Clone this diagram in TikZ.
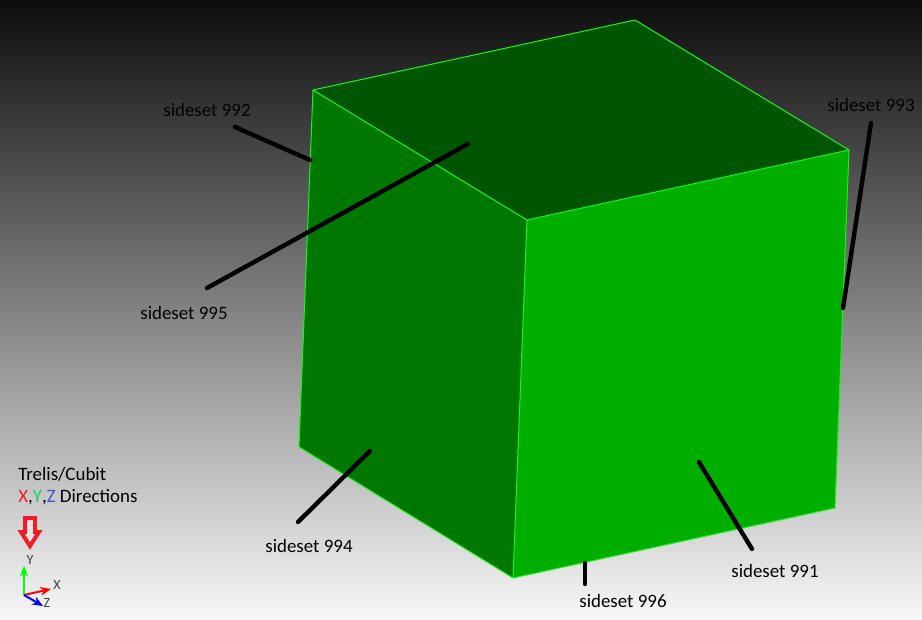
\documentclass[tikz,border=0pt]{standalone}
\usepackage{fontspec}
\usetikzlibrary{arrows.meta}
\setmainfont{Carlito}
\definecolor{topface}{HTML}{005500}
\definecolor{leftface}{HTML}{007700}
\definecolor{frontface}{HTML}{00AE00}
\definecolor{edgegreen}{HTML}{20F020}
\definecolor{triadred}{HTML}{EE1C25}
\definecolor{triadgreen}{HTML}{22CC66}
\definecolor{triadblue}{HTML}{4455CC}
\tikzset{
	edgeline/.style={edgegreen,line width=0.75pt,line join=round},
	leader/.style={black,line width=3.3pt,line cap=round},
	setlabel/.style={font=\fontsize{14.2}{16}\selectfont,text=black,inner sep=0pt},
	triadlabel/.style={font=\fontsize{10.5}{11}\selectfont,text=black!75,inner sep=0pt},
	triadarrow/.style={line width=1.5pt,-{Stealth[length=8pt,width=6.5pt]}},
}
\begin{document}
\begin{tikzpicture}[x=0.75pt,y=-0.75pt,line join=round,>=stealth]
	\useasboundingbox (0,0) rectangle (922,620);
	\shade[top color=black!95,bottom color=black!3] (0,0) rectangle (922,620);
	
	\coordinate (A) at (313,90);
	\coordinate (B) at (635,20);
	\coordinate (C) at (849,150);
	\coordinate (D) at (527,220);
	\coordinate (E) at (299,447);
	\coordinate (F) at (513,578);
	\coordinate (G) at (835,508);
	
	\fill[topface] (A) -- (B) -- (C) -- (D) -- cycle;
	\fill[leftface] (A) -- (D) -- (F) -- (E) -- cycle;
	\fill[frontface] (D) -- (C) -- (G) -- (F) -- cycle;
	
	\draw[edgeline] (A) -- (B) -- (C) -- (D) -- cycle;
	\draw[edgeline] (A) -- (E) -- (F) -- (G) -- (C);
	\draw[edgeline] (D) -- (F);
	
	\node[setlabel] (s992) at (207,110) {sideset 992};
	\node[setlabel] (s993) at (871,105) {sideset 993};
	\node[setlabel] (s995) at (184,313) {sideset 995};
	\node[setlabel] (s994) at (309,546) {sideset 994};
	\node[setlabel] (s991) at (775,571) {sideset 991};
	\node[setlabel] (s996) at (623,601) {sideset 996};
	
	\coordinate (p992a) at (235,127);
	\coordinate (p992b) at (310,160);
	\coordinate (p993a) at (871,123);
	\coordinate (p993b) at (843,308);
	\coordinate (p995a) at (207,288);
	\coordinate (p995b) at (468,144);
	\coordinate (p994a) at (298,522);
	\coordinate (p994b) at (370,451);
	\coordinate (p991a) at (752,549);
	\coordinate (p991b) at (699,462);
	\coordinate (p996a) at (585,584);
	\coordinate (p996b) at (585,563);
	
	\draw[leader] (p992a) -- (p992b);
	\draw[leader] (p993a) -- (p993b);
	\draw[leader] (p995a) -- (p995b);
	\draw[leader] (p994a) -- (p994b);
	\draw[leader] (p991a) -- (p991b);
	\draw[leader] (p996a) -- (p996b);
	
	\node[setlabel,anchor=west] (title) at (18,474) {Trelis/Cubit};
	\node[setlabel,anchor=west] (dirs) at (18,497) {\textcolor{triadred}{X},\textcolor{triadgreen}{Y},\textcolor{triadblue}{Z} Directions};
	
	% red arrow
	\draw[triadred,line width=3pt,fill=white!90!black,line join=miter]
		(25,518) -- (35,518) -- (35,532) -- (39,532) -- (30,546) -- (21,532) -- (25,532) -- cycle;
	
	% triad
	\coordinate (O) at (24,595);
	\coordinate (Xtip) at (51,589);
	\coordinate (Ytip) at (24,566);
	\coordinate (Ztip) at (43,606);
	\draw[red,triadarrow] (O) -- (Xtip);
	\draw[green,triadarrow] (O) -- (Ytip);
	\draw[blue,triadarrow] (O) -- (Ztip);
	\node[triadlabel] (lx) at (57,585) {X};
	\node[triadlabel] (ly) at (30,560) {Y};
	\node[triadlabel] (lz) at (47,603) {Z};
\end{tikzpicture}
\end{document}
